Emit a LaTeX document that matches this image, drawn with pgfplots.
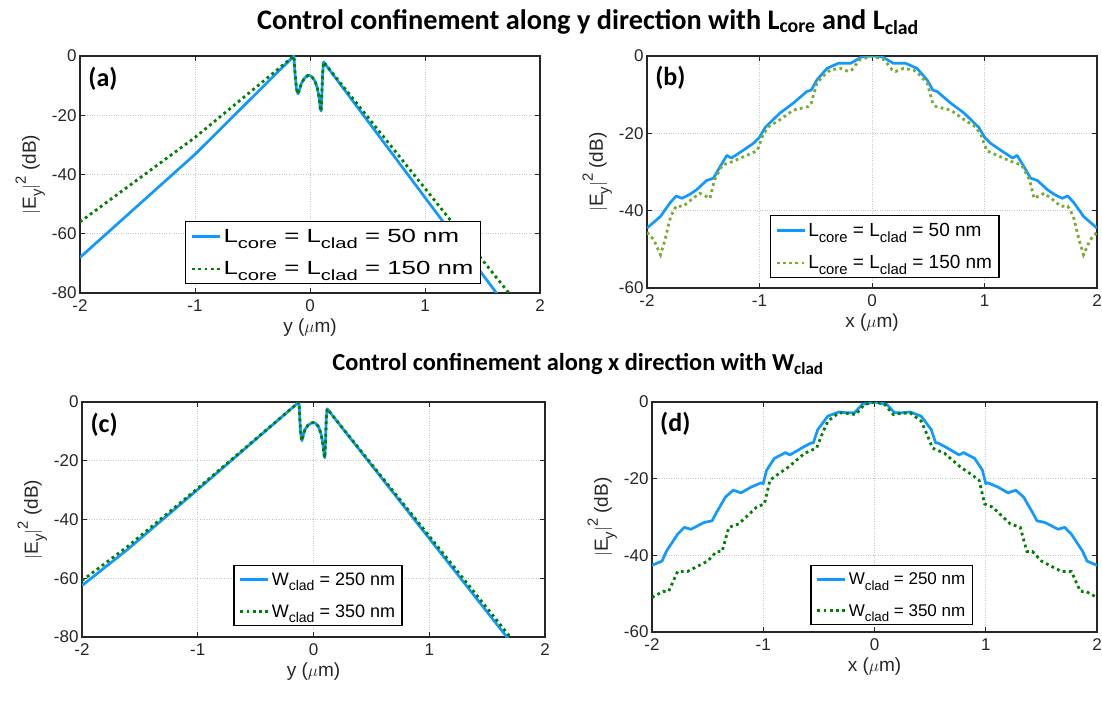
\documentclass[border=0pt]{standalone}
\usepackage{pgfplots}
\pgfplotsset{compat=1.18}
\usepackage{graphicx}
\usepackage{fontspec}
\setmainfont{Liberation Sans}
\newfontfamily\titlefont{Carlito}
\definecolor{cBlue}{RGB}{17,153,255}
\definecolor{cDkGreen}{RGB}{0,128,0}
\definecolor{cLtGreen}{RGB}{119,172,48}
\definecolor{cAx}{RGB}{38,38,38}

% MATLAB-like sub/superscripts (larger than LaTeX's)
\newcommand{\sub}[1]{\raisebox{-0.6ex}{\scalebox{0.78}{#1}}}
\newcommand{\sups}[1]{\raisebox{1.0ex}{\scalebox{0.78}{#1}}}

\pgfplotsset{
  panel/.style={
    scale only axis,
    anchor=south west,
    xmin=-2, xmax=2,
    xtick={-2,-1,0,1,2},
    tick align=inside,
    major tick length=5pt,
    axis line style={line width=1.3pt, cAx},
    every tick/.style={line width=1pt, cAx},
    grid=major,
    grid style={dotted, black!22, line width=0.9pt},
    tick label style={font=\fontsize{17}{17}\selectfont, text=cAx},
    xticklabel style={yshift=-3pt},
    /pgf/number format/assume math mode=true,
    label style={font=\fontsize{19}{19}\selectfont, text=cAx},
    ylabel={$|$E\sub{y}$|$\sups{2} (dB)},
    legend style={draw=black, line width=1.2pt, fill=white,
      font=\fontsize{19}{22}\selectfont, inner sep=5pt, row sep=14pt},
    legend cell align=left,
    legend image code/.code={\draw[#1] (0pt,0pt) -- (28pt,0pt);},
  },
  blue/.style={cBlue, line width=2.7pt, line join=round},
  dots/.style={#1, line width=2.8pt, dash pattern=on 2.8pt off 3.4pt},
}
\newcommand{\plabel}[1]{\node[anchor=north west, inner sep=0pt,
  font=\titlefont\bfseries\fontsize{26}{26}\selectfont]
  at (rel axis cs:0.018,0.955) {#1};}
\newcommand{\wide}[1]{\scalebox{1.36}[1]{#1}}

\begin{document}
\begin{tikzpicture}
\useasboundingbox (0pt,0pt) rectangle (1102pt,702pt);

\node[font=\titlefont\bfseries\fontsize{28.3}{28.3}\selectfont] at (588pt,680pt)
  {Control confinement along y direction with L\textsubscript{core} and L\textsubscript{clad}};
\node[font=\titlefont\bfseries\fontsize{24.4}{24.4}\selectfont] at (578pt,338pt)
  {Control confinement along x direction with W\textsubscript{clad}};

% (a)
\begin{axis}[panel, at={(80pt,409pt)}, width=460pt, height=237pt,
  ymin=-80, ymax=0, ytick={-80,-60,-40,-20,0},
  xlabel={y ($\mu$m)},
  legend style={at={(rel axis cs:0.872,0.038)}, anchor=south east}]
\addplot[blue] coordinates {
(-2,-68) (-1,-33.2) (-0.14,0) (-0.13,-6) (-0.118,-11) (-0.105,-12.8) (-0.09,-11.2)
(-0.075,-9.3) (-0.05,-7.6) (-0.02,-6.6) (0,-6.6) (0.02,-7.2) (0.045,-8.6)
(0.065,-11) (0.08,-14.2) (0.09,-17.8) (0.097,-18.6) (0.103,-13) (0.11,-6) (0.118,-2)
(1.65,-81.5)};
\addlegendentry{\wide{L\sub{core} = L\sub{clad} = 50 nm}}
\addplot[dots=cDkGreen] coordinates {
(-2,-56) (-1,-27.5) (-0.14,0) (-0.13,-6) (-0.118,-11) (-0.105,-12.8) (-0.09,-11.2)
(-0.075,-9.3) (-0.05,-7.6) (-0.02,-6.6) (0,-6.6) (0.02,-7.2) (0.045,-8.6)
(0.065,-11) (0.08,-14.2) (0.09,-17.8) (0.097,-18.6) (0.103,-13) (0.11,-6) (0.118,-2)
(1.76,-81.5)};
\addlegendentry{\wide{L\sub{core} = L\sub{clad} = 150 nm}}
\plabel{(a)}
\end{axis}

% (b)
\begin{axis}[panel, at={(647pt,414pt)}, width=450pt, height=232pt,
  ymin=-60, ymax=0, ytick={-60,-40,-20,0},
  xlabel={x ($\mu$m)},
  legend style={at={(rel axis cs:0.273,0.043)}, anchor=south west}]
\addplot[blue] coordinates {
(-2.00,-44.5) (-1.94,-43.0) (-1.88,-41.5) (-1.84,-39.8) (-1.79,-37.8) (-1.74,-36.2)
(-1.69,-36.8) (-1.62,-35.8) (-1.56,-34.6) (-1.47,-32.2) (-1.41,-31.6) (-1.35,-28.6)
(-1.29,-25.7) (-1.25,-26.4) (-1.14,-24.3) (-1.05,-22.5) (-1.00,-21.0) (-0.95,-18.5)
(-0.88,-16.5) (-0.82,-14.8) (-0.70,-12.2) (-0.58,-9.2) (-0.54,-8.8) (-0.49,-6.2)
(-0.40,-3.2) (-0.30,-1.9) (-0.19,-1.9) (-0.09,-0.2) (0,0)
(0.09,-0.2) (0.19,-1.9) (0.30,-1.9) (0.40,-3.2) (0.49,-6.2) (0.54,-8.8) (0.58,-9.2)
(0.70,-12.2) (0.82,-14.8) (0.88,-16.5) (0.95,-18.5) (1.00,-21.0) (1.05,-22.5)
(1.14,-24.3) (1.25,-26.4) (1.29,-25.7) (1.35,-28.6) (1.41,-31.6) (1.47,-32.2)
(1.56,-34.6) (1.62,-35.8) (1.69,-36.8) (1.74,-36.2) (1.79,-37.8) (1.84,-39.8)
(1.88,-41.5) (1.94,-43.0) (2.00,-44.5)};
\addlegendentry{L\sub{core} = L\sub{clad} = 50 nm}
\addplot[dots=cLtGreen] coordinates {
(-2.00,-45.6) (-1.94,-47.5) (-1.88,-51.4) (-1.84,-47.5) (-1.79,-41.5) (-1.74,-38.8)
(-1.68,-38.9) (-1.60,-37.0) (-1.53,-35.5) (-1.44,-36.8) (-1.40,-32.0) (-1.33,-28.2)
(-1.24,-27.3) (-1.12,-25.8) (-1.02,-24.5) (-0.97,-20.5) (-0.92,-18.3) (-0.82,-16.5)
(-0.70,-14.0) (-0.57,-13.1) (-0.54,-12.2) (-0.49,-7.0) (-0.42,-4.8) (-0.37,-3.6)
(-0.28,-3.2) (-0.21,-4.0) (-0.18,-3.6) (-0.11,-1.0) (0,0)
(0.11,-1.0) (0.18,-3.6) (0.21,-4.0) (0.28,-3.2) (0.37,-3.6) (0.42,-4.8) (0.49,-7.0)
(0.54,-12.2) (0.57,-13.1) (0.70,-14.0) (0.82,-16.5) (0.92,-18.3) (0.97,-20.5)
(1.02,-24.5) (1.12,-25.8) (1.24,-27.3) (1.33,-28.2) (1.40,-32.0) (1.44,-36.8)
(1.53,-35.5) (1.60,-37.0) (1.68,-38.9) (1.74,-38.8) (1.79,-41.5) (1.84,-47.5)
(1.88,-51.4) (1.94,-47.5) (2.00,-45.6)};
\addlegendentry{L\sub{core} = L\sub{clad} = 150 nm}
\plabel{(b)}
\end{axis}

% (c)
\begin{axis}[panel, at={(82pt,65pt)}, width=463pt, height=235pt,
  ymin=-80, ymax=0, ytick={-80,-60,-40,-20,0},
  xlabel={y ($\mu$m)},
  legend style={at={(rel axis cs:0.327,0.046)}, anchor=south west,
    font=\fontsize{18}{21}\selectfont}]
\addplot[blue] coordinates {
(-2,-62.5) (-1.6,-50) (-1,-29.8) (-0.125,0) (-0.118,-6) (-0.11,-11) (-0.10,-13.2)
(-0.09,-11.5) (-0.075,-9.5) (-0.05,-8) (-0.02,-7.2) (0,-7) (0.02,-7.3) (0.045,-8.5)
(0.065,-10.8) (0.08,-14) (0.092,-18) (0.098,-19) (0.104,-13) (0.11,-6) (0.118,-2.3)
(1.70,-81.5)};
\addlegendentry{W\sub{clad} = 250 nm}
\addplot[dots=cDkGreen] coordinates {
(-2,-60.8) (-1.6,-49) (-1,-29.4) (-0.125,0) (-0.118,-6) (-0.11,-11) (-0.10,-13.2)
(-0.09,-11.5) (-0.075,-9.5) (-0.05,-8) (-0.02,-7.2) (0,-7) (0.02,-7.3) (0.045,-8.5)
(0.065,-10.8) (0.08,-14) (0.092,-18) (0.098,-19) (0.104,-13) (0.11,-6) (0.118,-2.3)
(1.73,-81.5)};
\addlegendentry{W\sub{clad} = 350 nm}
\plabel{(c)}
\end{axis}

% (d)
\begin{axis}[panel, at={(652pt,70pt)}, width=445pt, height=230pt,
  ymin=-60, ymax=0, ytick={-60,-40,-20,0},
  xlabel={x ($\mu$m)},
  legend style={at={(rel axis cs:0.356,0.03)}, anchor=south west,
    font=\fontsize{17}{20}\selectfont}]
\addplot[blue] coordinates {
(-2.00,-42.6) (-1.91,-41.5) (-1.87,-38.9) (-1.77,-34.5) (-1.71,-32.7) (-1.65,-33.2)
(-1.53,-31.4) (-1.46,-31.0) (-1.42,-28.8) (-1.34,-24.8) (-1.27,-23.0) (-1.20,-23.7)
(-1.11,-22.2) (-1.02,-21.1) (-1.00,-21.3) (-0.97,-17.8) (-0.90,-14.7) (-0.80,-13.2)
(-0.76,-13.8) (-0.63,-11.6) (-0.57,-10.7) (-0.55,-10.7) (-0.51,-7.2) (-0.42,-3.7)
(-0.32,-2.6) (-0.25,-2.8) (-0.18,-2.8) (-0.11,-0.6) (0,0)
(0.11,-0.6) (0.18,-2.8) (0.25,-2.8) (0.32,-2.6) (0.42,-3.7) (0.51,-7.2) (0.55,-10.7)
(0.57,-10.7) (0.63,-11.6) (0.76,-13.8) (0.80,-13.2) (0.90,-14.7) (0.97,-17.8)
(1.00,-21.3) (1.02,-21.1) (1.11,-22.2) (1.20,-23.7) (1.27,-23.0) (1.34,-24.8)
(1.42,-28.8) (1.46,-31.0) (1.53,-31.4) (1.65,-33.2) (1.71,-32.7) (1.77,-34.5)
(1.87,-38.9) (1.91,-41.5) (2.00,-42.6)};
\addlegendentry{W\sub{clad} = 250 nm}
\addplot[dots=cDkGreen] coordinates {
(-2.00,-51.0) (-1.90,-49.4) (-1.85,-49.4) (-1.77,-44.2) (-1.68,-44.2) (-1.50,-41.5)
(-1.42,-39.0) (-1.37,-39.0) (-1.31,-32.7) (-1.22,-31.8) (-1.06,-27.4) (-0.99,-26.6)
(-0.94,-20.4) (-0.88,-19.1) (-0.77,-16.9) (-0.63,-13.4) (-0.52,-12.0) (-0.48,-9.0)
(-0.42,-5.0) (-0.32,-2.8) (-0.23,-3.0) (-0.17,-3.3) (-0.09,-0.6) (0,0)
(0.09,-0.6) (0.17,-3.3) (0.23,-3.0) (0.32,-2.8) (0.42,-5.0) (0.48,-9.0) (0.52,-12.0)
(0.63,-13.4) (0.77,-16.9) (0.88,-19.1) (0.94,-20.4) (0.99,-26.6) (1.06,-27.4)
(1.22,-31.8) (1.31,-32.7) (1.37,-39.0) (1.42,-39.0) (1.50,-41.5) (1.68,-44.2)
(1.77,-44.2) (1.85,-49.4) (1.90,-49.4) (2.00,-51.0)};
\addlegendentry{W\sub{clad} = 350 nm}
\plabel{(d)}
\end{axis}
\end{tikzpicture}
\end{document}
